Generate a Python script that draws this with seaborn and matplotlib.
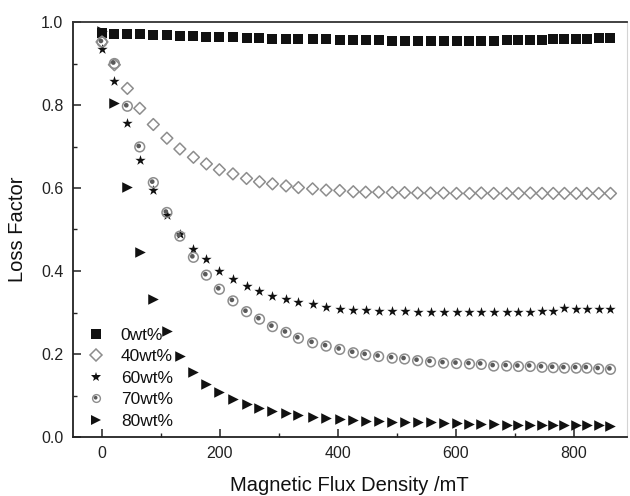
import numpy as np
import pandas as pd
import matplotlib
matplotlib.use("Agg")
import matplotlib.pyplot as plt
import seaborn as sns
from matplotlib.path import Path
from matplotlib.lines import Line2D
from matplotlib.legend_handler import HandlerTuple
from matplotlib.ticker import MultipleLocator

# Magnetic flux density (mT), shared by all samples
flux = [0, 21, 43, 64, 87, 110, 132, 155, 177, 199, 222, 245, 267, 289, 312,
        333, 357, 380, 403, 426, 447, 469, 492, 513, 535, 557, 579, 601, 623,
        643, 664, 686, 706, 726, 746, 765, 784, 804, 822, 842, 862]

loss_0wt = [0.973, 0.971, 0.970, 0.970, 0.969, 0.968, 0.967, 0.966, 0.965, 0.964,
            0.963, 0.962, 0.961, 0.960, 0.960, 0.959, 0.958, 0.958, 0.957, 0.957,
            0.956, 0.956, 0.955, 0.955, 0.954, 0.955, 0.954, 0.954, 0.955, 0.955,
            0.955, 0.956, 0.956, 0.957, 0.957, 0.958, 0.958, 0.959, 0.960, 0.961,
            0.962]
loss_40wt = [0.952, 0.897, 0.840, 0.792, 0.753, 0.720, 0.694, 0.674, 0.658, 0.644,
             0.634, 0.623, 0.615, 0.610, 0.605, 0.601, 0.598, 0.595, 0.594, 0.591,
             0.590, 0.590, 0.589, 0.589, 0.588, 0.588, 0.588, 0.587, 0.587, 0.588,
             0.587, 0.587, 0.587, 0.588, 0.587, 0.587, 0.587, 0.587, 0.587, 0.587,
             0.587]
loss_60wt = [0.934, 0.857, 0.757, 0.667, 0.595, 0.535, 0.490, 0.454, 0.428, 0.400,
             0.380, 0.364, 0.352, 0.340, 0.332, 0.325, 0.320, 0.314, 0.308, 0.306,
             0.306, 0.304, 0.304, 0.303, 0.302, 0.302, 0.301, 0.301, 0.301, 0.301,
             0.301, 0.301, 0.302, 0.302, 0.303, 0.303, 0.312, 0.308, 0.308, 0.308,
             0.308]
loss_70wt = [0.952, 0.900, 0.797, 0.699, 0.613, 0.541, 0.484, 0.433, 0.390, 0.356,
             0.328, 0.302, 0.284, 0.266, 0.252, 0.238, 0.227, 0.219, 0.211, 0.203,
             0.198, 0.194, 0.190, 0.188, 0.184, 0.181, 0.178, 0.177, 0.176, 0.175,
             0.171, 0.171, 0.170, 0.170, 0.168, 0.167, 0.166, 0.166, 0.166, 0.164,
             0.163]
loss_80wt = [0.978, 0.804, 0.603, 0.446, 0.333, 0.255, 0.195, 0.157, 0.127, 0.108,
             0.092, 0.080, 0.071, 0.063, 0.057, 0.053, 0.049, 0.045, 0.043, 0.041,
             0.039, 0.038, 0.037, 0.036, 0.035, 0.035, 0.033, 0.033, 0.031, 0.031,
             0.031, 0.030, 0.030, 0.030, 0.030, 0.029, 0.029, 0.028, 0.028, 0.028,
             0.027]

labels = ["0wt%", "40wt%", "60wt%", "70wt%", "80wt%"]
x_ticks = [0, 200, 400, 600, 800]
y_ticks = [0.0, 0.2, 0.4, 0.6, 0.8, 1.0]

df = pd.DataFrame({"flux": flux, "0wt%": loss_0wt, "40wt%": loss_40wt,
                   "60wt%": loss_60wt, "70wt%": loss_70wt, "80wt%": loss_80wt})

sns.set_theme(style="ticks")
plt.rcParams["font.family"] = ["Liberation Sans", "DejaVu Sans"]
plt.rcParams["text.color"] = "#111111"
plt.rcParams["axes.labelcolor"] = "#111111"
plt.rcParams["xtick.color"] = "#222222"
plt.rcParams["ytick.color"] = "#222222"

# dark off-centre spot inside the open circle marker (extent kept at +-1)
dot_circle = Path.circle((-0.22, 0.2), 0.48)
dot_path = Path(np.vstack([[[1.0, 0.0]], [[-1.0, 0.0]], dot_circle.vertices]),
                np.concatenate([[Path.MOVETO, Path.MOVETO], dot_circle.codes]))

fig = plt.figure(figsize=(6.3, 4.96), dpi=100)
ax = fig.add_axes([72.5 / 630, 1 - 437 / 496, (627 - 72.5) / 630, (437 - 22) / 496])

BLACK = "#111111"
GREY = "#8d8d8d"
DOT = "#5a5a5a"

sq_ms, dm_ms, st_ms, ci_ms, tr_ms = 6.6, 6.0, 7.8, 7.0, 7.6

sns.scatterplot(data=df, x="flux", y="0wt%", marker="s", s=sq_ms ** 2,
                color=BLACK, edgecolor=BLACK, linewidth=0, ax=ax, legend=False, zorder=3)
sns.scatterplot(data=df, x="flux", y="40wt%", marker="D", s=dm_ms ** 2,
                facecolor="none", edgecolor=GREY, linewidth=1.1, ax=ax, legend=False, zorder=3)
sns.scatterplot(data=df, x="flux", y="60wt%", marker="*", s=st_ms ** 2,
                color=BLACK, edgecolor=BLACK, linewidth=0, ax=ax, legend=False, zorder=3)
sns.scatterplot(data=df, x="flux", y="70wt%", marker="o", s=ci_ms ** 2,
                facecolor="none", edgecolor=GREY, linewidth=1.1, ax=ax, legend=False, zorder=3)
sns.scatterplot(data=df, x="flux", y="70wt%", marker=dot_path, s=ci_ms ** 2,
                color=DOT, edgecolor="none", linewidth=0, ax=ax, legend=False, zorder=3)
sns.scatterplot(data=df, x="flux", y="80wt%", marker=">", s=tr_ms ** 2,
                color=BLACK, edgecolor=BLACK, linewidth=0, ax=ax, legend=False, zorder=4)

ax.set_xlim(-50, 890)
ax.set_ylim(0.0, 1.0)
ax.set_xticks(x_ticks)
ax.set_yticks(y_ticks)
ax.set_yticklabels([f"{v:.1f}" for v in y_ticks])
ax.xaxis.set_minor_locator(MultipleLocator(100))
ax.yaxis.set_minor_locator(MultipleLocator(0.1))
ax.tick_params(which="major", direction="in", length=6, width=1.1, labelsize=11.5,
               pad=6.5, top=False, right=False)
ax.tick_params(which="minor", direction="in", length=3.2, width=1.0, top=False, right=False)

for side in ["left", "bottom"]:
    ax.spines[side].set_color("#222222")
    ax.spines[side].set_linewidth(1.3)
ax.spines["top"].set_color("#333333")
ax.spines["top"].set_linewidth(1.3)
ax.spines["right"].set_color("#d4d4d4")
ax.spines["right"].set_linewidth(0.8)

ax.set_xlabel("Magnetic Flux Density /mT", fontsize=14.5, labelpad=11)
ax.set_ylabel("Loss Factor", fontsize=14.5, labelpad=10)

leg_ci = 5.6
handles = [
    Line2D([], [], ls="none", marker="s", ms=sq_ms, mfc=BLACK, mec=BLACK, mew=0),
    Line2D([], [], ls="none", marker="D", ms=dm_ms, mfc="none", mec=GREY, mew=1.1),
    Line2D([], [], ls="none", marker="*", ms=st_ms, mfc=BLACK, mec=BLACK, mew=0),
    (Line2D([], [], ls="none", marker="o", ms=leg_ci, mfc="none", mec=GREY, mew=1.0),
     Line2D([], [], ls="none", marker=dot_path, ms=leg_ci, mfc=DOT, mec="none", mew=0)),
    Line2D([], [], ls="none", marker=">", ms=tr_ms, mfc=BLACK, mec=BLACK, mew=0),
]
ax.legend(handles, labels, loc="lower left", bbox_to_anchor=(0.026, 0.02),
          frameon=False, fontsize=12.5, handlelength=1.0, handletextpad=0.95,
          labelspacing=0.36, borderpad=0, borderaxespad=0, numpoints=1,
          handler_map={tuple: HandlerTuple(ndivide=1, pad=0)})

fig.savefig("out.png", dpi=100)
